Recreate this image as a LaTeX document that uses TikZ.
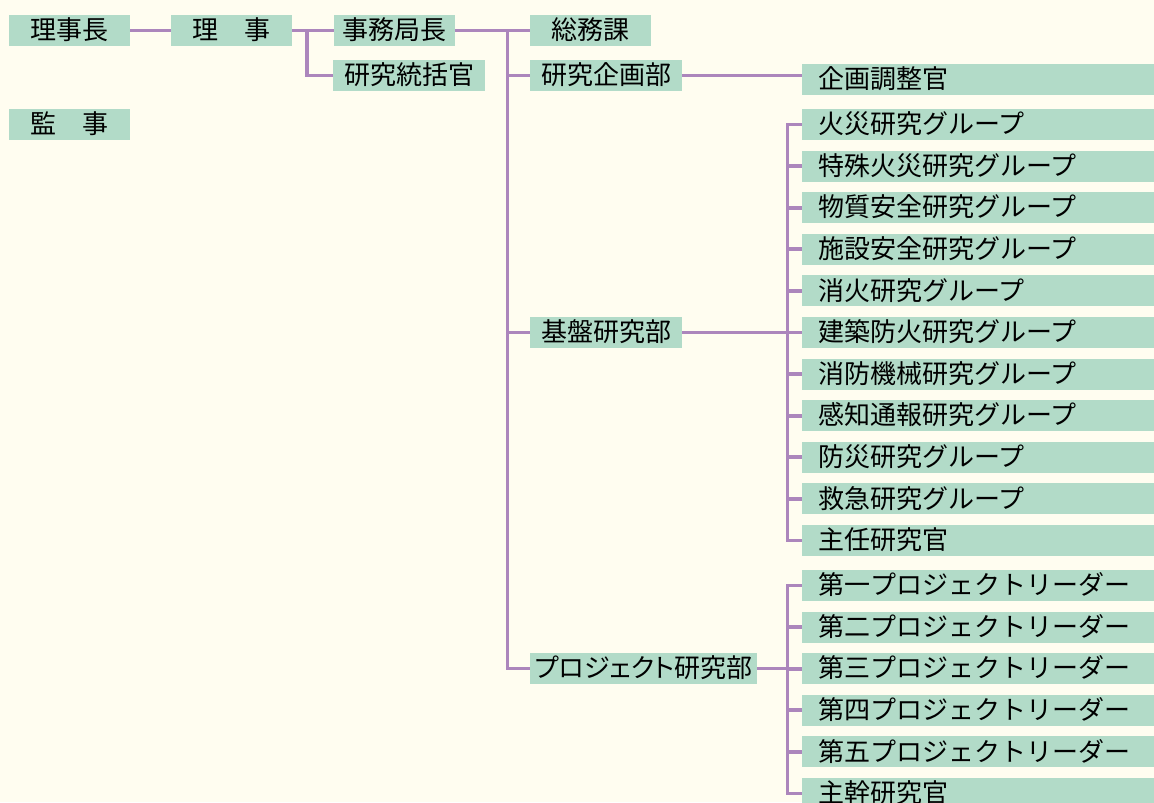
\documentclass[tikz,border=0pt]{standalone}
\usepackage{fontspec}
\newfontfamily\jp{Noto Sans CJK JP}
\newfontfamily\jpp[RawFeature=+palt]{Noto Sans CJK JP}
\definecolor{bgc}{HTML}{FFFDF0}
\definecolor{boxc}{HTML}{B2DBC8}
\definecolor{linec}{HTML}{AC86BC}
\begin{document}
\begin{tikzpicture}[x=0.5pt,y=-0.5pt,
  box/.style={fill=boxc, inner sep=0pt, minimum height=15.5pt, font=\jp\fontsize{13pt}{13pt}\selectfont, text height=11pt, text depth=1.8pt},
  cbox/.style={box, anchor=center},
  rbox/.style={box, anchor=west, inner xsep=8pt, text width=160pt, align=left},
  conn/.style={draw=linec, line width=1.9pt}]
\fill[bgc] (0,0) rectangle (1154,802);
\useasboundingbox (0,0) rectangle (1154,802);
% left part
\node[cbox, minimum width=60.5pt] (rijicho) at (69.5,30.5) {理事長};
\node[cbox, minimum width=60.5pt] (riji) at (231.5,30.5) {理　事};
\node[cbox, minimum width=60.5pt] (jimu) at (394.5,30.5) {事務局長};
\node[cbox, minimum width=60.5pt] (somu) at (590.5,30.5) {総務課};
\node[cbox, minimum width=76pt] (tokatsu) at (409,75.5) {研究統括官};
\node[cbox, minimum width=76pt] (kikaku) at (606,75.5) {研究企画部};
\node[cbox, minimum width=60.5pt] (kanji) at (69.5,124.5) {監　事};
\node[cbox, minimum width=76pt] (kiban) at (606,332.5) {基盤研究部};
\node[cbox, minimum width=113.5pt] (proj) at (643.5,668.5) {{\jpp プロジェクト}研究部};
% right column
\node[rbox] (chosei) at (802,79.5) {企画調整官};
\foreach \t [count=\i from 0] in {火災研究グループ,特殊火災研究グループ,物質安全研究グループ,施設安全研究グループ,消火研究グループ,建築防火研究グループ,消防機械研究グループ,感知通報研究グループ,防災研究グループ,救急研究グループ,主任研究官}
  \node[rbox] (g\i) at (802,124.5+41.6*\i) {\t};
\foreach \t [count=\i from 0] in {第一プロジェクトリーダー,第二プロジェクトリーダー,第三プロジェクトリーダー,第四プロジェクトリーダー,第五プロジェクトリーダー,主幹研究官}
  \node[rbox] (p\i) at (802,585.5+41.6*\i) {\t};
% connectors
\coordinate (b1) at (307,30.5);
\coordinate (s1) at (507.5,30.5);
\coordinate (s2) at (787.5,332.5);
\coordinate (s3) at (787.5,668.5);
\draw[conn] (rijicho.east) -- (riji.west);
\draw[conn] (riji.east) -- (jimu.west);
\draw[conn] (b1) |- (tokatsu.west);
\draw[conn] (jimu.east) -- (somu.west);
\draw[conn] (s1) |- (kikaku.west);
\draw[conn] (s1) |- (kiban.west);
\draw[conn] (s1) |- (proj.west);
\draw[conn] (kikaku.east) -- (kikaku.east -| chosei.west);
\draw[conn] (kiban.east) -- (s2);
\foreach \i in {0,...,10} \draw[conn] (s2) |- (g\i.west);
\draw[conn] (proj.east) -- (s3);
\foreach \i in {0,...,5} \draw[conn] (s3) |- (p\i.west);
\end{tikzpicture}
\end{document}
